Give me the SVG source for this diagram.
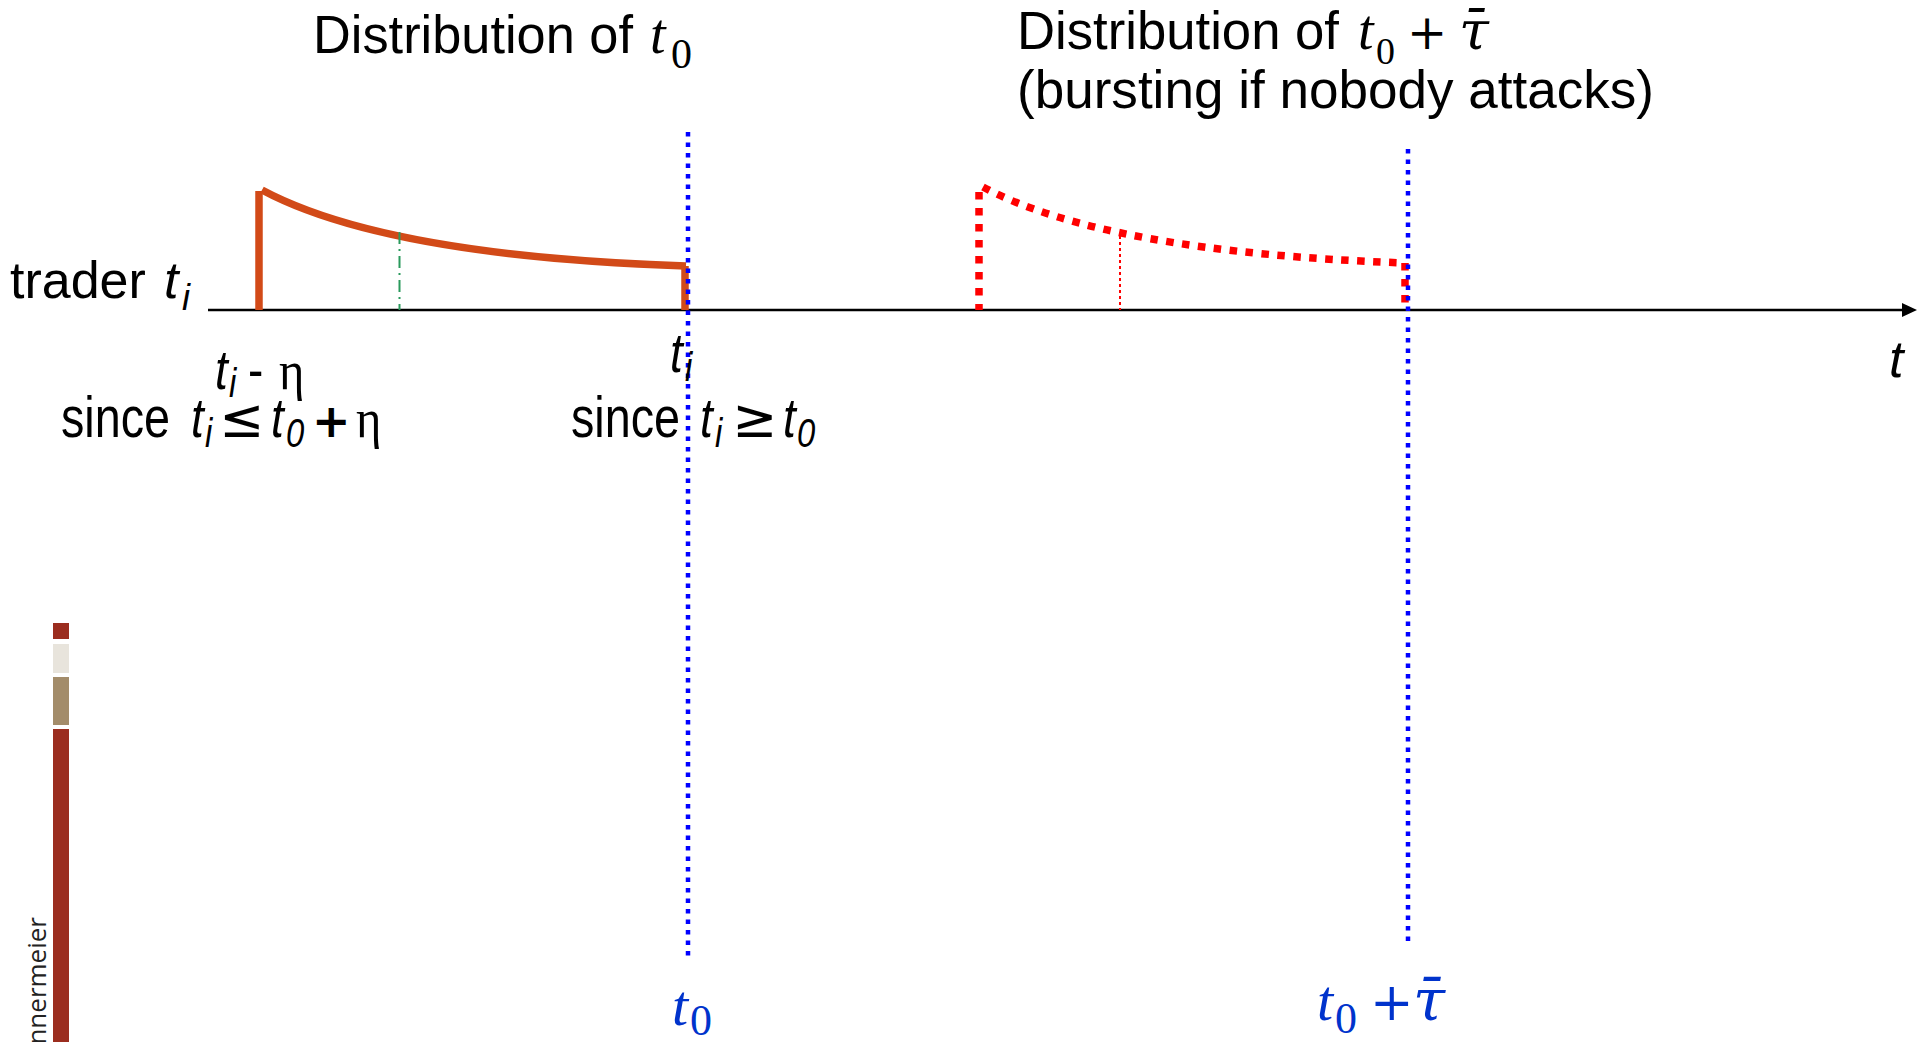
<svg xmlns="http://www.w3.org/2000/svg" width="1917" height="1042" viewBox="0 0 1917 1042">
<defs>
<style>
.sans{font-family:"Liberation Sans",Arial,sans-serif;fill:#000}
.it{font-style:italic}
.math{font-family:"Liberation Serif","Times New Roman",serif;font-style:italic}
.up{font-family:"Liberation Serif","Times New Roman",serif;font-style:normal}
.dj{font-family:"DejaVu Serif",serif}
.sym{font-family:"DejaVu Sans",sans-serif}
.blue{fill:#0033cc}
.orange{fill:none;stroke:#d24a18;stroke-width:7.5}
.reddash{fill:none;stroke:#ff0000;stroke-width:7.5;stroke-dasharray:7.5 8.5}
.bluedot{fill:none;stroke:#0000ff;stroke-width:4.5;stroke-dasharray:4.5 6}
</style>
</defs>
<rect width="1917" height="1042" fill="#ffffff"/>

<g id="title-t0" class="sans" font-size="54">
<text x="313" y="53" textLength="320" lengthAdjust="spacingAndGlyphs">Distribution of</text>
<text class="math" x="650" y="53" font-size="56">t</text>
<text class="up" x="671" y="68" font-size="42">0</text>
</g>

<g id="title-t0-tau" class="sans" font-size="54">
<text x="1017" y="49" textLength="322" lengthAdjust="spacingAndGlyphs">Distribution of</text>
<text class="math" x="1358" y="49" font-size="56">t</text>
<text class="up" x="1376" y="64" font-size="38">0</text>
<text class="dj" x="1407" y="49" font-size="48">+</text>
<text class="dj it" x="1459" y="49" font-size="54">τ̄</text>
<text x="1017" y="108" textLength="637" lengthAdjust="spacingAndGlyphs">(bursting if nobody attacks)</text>
</g>

<g id="decoration">
<rect x="53" y="623" width="16" height="16" fill="#9b2d1f"/>
<rect x="53" y="644" width="16" height="29" fill="#e8e4dc"/>
<rect x="53" y="677" width="16" height="48" fill="#a38c6a"/>
<rect x="53" y="729" width="16" height="313" fill="#9b2d1f"/>
<text transform="translate(46,917) rotate(-90)" text-anchor="end" font-family="'Open Sans',sans-serif" font-size="26" fill="#222">nnermeier</text>
</g>

<g id="axis">
<line x1="208" y1="310" x2="1905" y2="310" stroke="#000" stroke-width="2.5"/>
<polygon points="1902,303 1917,310 1902,317" fill="#000"/>
<text class="sans it" x="1889" y="377" font-size="52">t</text>
</g>

<g id="distribution-t0">
<line class="orange" x1="259" y1="191" x2="259" y2="310"/>
<path class="orange" d="M262,190 Q385,256 686,266"/>
<line class="orange" x1="685" y1="266" x2="685" y2="310"/>
<line x1="399.5" y1="232" x2="399.5" y2="310" stroke="#2a9a5c" stroke-width="2" stroke-dasharray="12 5 2 5"/>
</g>

<g id="distribution-t0-tau">
<line class="reddash" x1="979" y1="192" x2="979" y2="310"/>
<path class="reddash" d="M983,187 Q1105,252 1405,263"/>
<line class="reddash" x1="1405" y1="263" x2="1405" y2="310"/>
<line x1="1120" y1="236" x2="1120" y2="310" stroke="#ff0000" stroke-width="2" stroke-dasharray="3 3"/>
</g>

<g id="connectors">
<line class="bluedot" x1="688" y1="132" x2="688" y2="960"/>
<line class="bluedot" x1="1408" y1="149" x2="1408" y2="944"/>
</g>

<g id="label-trader" class="sans" font-size="52">
<text x="10" y="298">trader</text>
<text class="it" x="164" y="298">t</text>
<text class="it" x="182" y="310" font-size="36">i</text>
</g>

<g id="label-left" class="sans" font-size="56">
<text class="it" transform="translate(215,389) scale(0.82,1)">t</text>
<text class="it" transform="translate(229,397) scale(0.82,1)" font-size="40">i</text>
<text transform="translate(248,389) scale(0.82,1)">-</text>
<text class="up" transform="translate(279,389) scale(0.9,1)" font-size="54">η</text>
<text transform="translate(61,437) scale(0.82,1)" font-size="57">since</text>
<text class="it" transform="translate(191,437) scale(0.82,1)">t</text>
<text class="it" transform="translate(205,447) scale(0.82,1)" font-size="40">i</text>
<text class="sym" x="219" y="437" font-size="54">≤</text>
<text class="it" transform="translate(271,437) scale(0.82,1)">t</text>
<text class="it" transform="translate(286,447) scale(0.82,1)" font-size="40">0</text>
<text class="sym" x="312" y="437" font-size="46" font-weight="bold">+</text>
<text class="up" transform="translate(356,437) scale(0.9,1)" font-size="54">η</text>
</g>

<g id="label-right" class="sans" font-size="56">
<text class="it" transform="translate(670,372) scale(0.82,1)">t</text>
<text class="it" transform="translate(685,381) scale(0.82,1)" font-size="40">i</text>
<text transform="translate(571,437) scale(0.82,1)" font-size="57">since</text>
<text class="it" transform="translate(700,437) scale(0.82,1)">t</text>
<text class="it" transform="translate(715,447) scale(0.82,1)" font-size="40">i</text>
<text class="sym" x="732" y="437" font-size="54">≥</text>
<text class="it" transform="translate(783,437) scale(0.82,1)">t</text>
<text class="it" transform="translate(797,447) scale(0.82,1)" font-size="40">0</text>
</g>

<g id="label-t0" class="blue">
<text class="math" x="672" y="1025" font-size="58">t</text>
<text class="up" x="690" y="1035" font-size="44">0</text>
</g>

<g id="label-t0-tau" class="blue">
<text class="math" x="1317" y="1020" font-size="58">t</text>
<text class="up" x="1335" y="1033" font-size="44">0</text>
<text class="dj" x="1370" y="1020" font-size="52">+</text>
<text class="dj it" x="1413" y="1020" font-size="58">τ̄</text>
</g>
</svg>
